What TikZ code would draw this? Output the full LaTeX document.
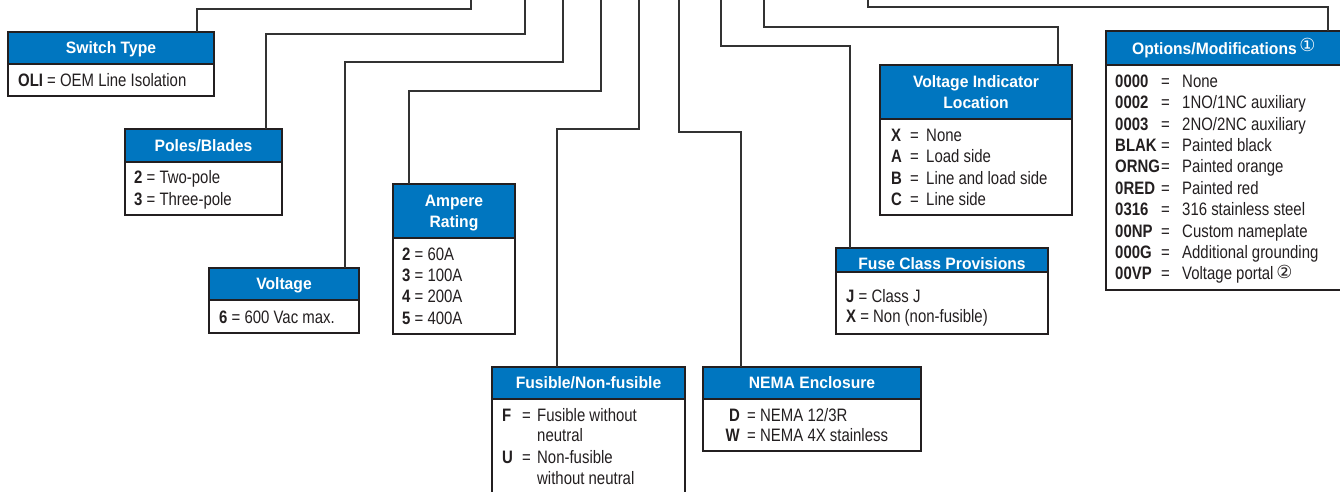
\documentclass[tikz,border=0pt]{standalone}
\usepackage{fontspec}
\setmainfont{Liberation Sans}
\newfontfamily\bodyf{Liberation Sans}[FakeStretch=0.83]
\newfontfamily\headf{Liberation Sans}[FakeStretch=0.95]
\newfontfamily\symf{DejaVu Sans}
\definecolor{hdrblue}{RGB}{0,118,192}
\definecolor{ink}{RGB}{35,31,32}
\definecolor{wire}{RGB}{50,50,50}
\begin{document}
\begin{tikzpicture}[x=1pt,y=-1pt,
  wirestyle/.style={draw=wire,line width=1.4pt},
  hdr/.style={draw=ink,line width=1.6pt,fill=hdrblue,anchor=north west,inner sep=0pt,outer sep=0pt},
  bodybox/.style={draw=ink,line width=1.6pt,fill=white,anchor=north west,inner sep=0pt,outer sep=0pt},
  htxt/.style={font=\headf\fontsize{16.5}{21.7}\selectfont\bfseries,text=white,inner sep=0pt,anchor=base},
  btxt/.style={font=\bodyf\fontsize{18}{21.4}\selectfont,text=ink,inner sep=0pt,anchor=base west},
  bkey/.style={btxt,font=\bodyf\fontsize{18}{21.4}\selectfont\bfseries},
  bkeyr/.style={bkey,anchor=base east},
  circnum/.style={font=\symf\fontsize{18}{20}\selectfont,inner sep=0pt,anchor=center}]
\useasboundingbox (0,0) rectangle (1340,492);
\clip (0,0) rectangle (1340,492);

% ---------- boxes ----------
% Switch Type
\node[bodybox,minimum width=206pt,minimum height=32pt] (swb) at (8,64) {};
\node[hdr,minimum width=206pt,minimum height=32pt] (swh) at (8,32) {};
% Poles/Blades
\node[bodybox,minimum width=157pt,minimum height=53pt] (pbb) at (125,162) {};
\node[hdr,minimum width=157pt,minimum height=33pt] (pbh) at (125,129) {};
% Voltage
\node[bodybox,minimum width=150pt,minimum height=33pt] (vob) at (209,300) {};
\node[hdr,minimum width=150pt,minimum height=32pt] (voh) at (209,268) {};
% Ampere Rating
\node[bodybox,minimum width=122pt,minimum height=96pt] (amb) at (393,238) {};
\node[hdr,minimum width=122pt,minimum height=54pt] (amh) at (393,184) {};
% Fusible/Non-fusible
\node[bodybox,minimum width=193pt,minimum height=110pt] (fub) at (492,399) {};
\node[hdr,minimum width=193pt,minimum height=32pt] (fuh) at (492,367) {};
% NEMA Enclosure
\node[bodybox,minimum width=218pt,minimum height=52pt] (neb) at (703,399) {};
\node[hdr,minimum width=218pt,minimum height=32pt] (neh) at (703,367) {};
% Voltage Indicator Location
\node[bodybox,minimum width=192pt,minimum height=96pt] (vib) at (880,119) {};
\node[hdr,minimum width=192pt,minimum height=54pt] (vih) at (880,65) {};
% Fuse Class Provisions
\node[bodybox,minimum width=212pt,minimum height=62pt] (fcb) at (836,272) {};
\node[hdr,minimum width=212pt,minimum height=24pt] (fch) at (836,248) {};
% Options/Modifications
\node[bodybox,minimum width=250pt,minimum height=225pt] (opb) at (1106,65) {};
\node[hdr,minimum width=250pt,minimum height=34pt] (oph) at (1106,31) {};

% ---------- connectors ----------
\coordinate (t1) at (471,0);
\coordinate (t2) at (525,0);
\coordinate (t3) at (563,0);
\coordinate (t4) at (601,0);
\coordinate (t5) at (639,0);
\coordinate (t6) at (679,0);
\coordinate (t7) at (721,0);
\coordinate (t8) at (764,0);
\coordinate (t9) at (868,0);
\draw[wirestyle] (t1) -- ++(0,9)   -| ([xshift=189pt]swh.north west);
\draw[wirestyle] (t2) -- ++(0,34)  -| ([xshift=141pt]pbh.north west);
\draw[wirestyle] (t3) -- ++(0,62)  -| ([xshift=136pt]voh.north west);
\draw[wirestyle] (t4) -- ++(0,91)  -| ([xshift=16pt]amh.north west);
\draw[wirestyle] (t5) -- ++(0,129) -| ([xshift=65pt]fuh.north west);
\draw[wirestyle] (t6) -- ++(0,132) -| ([xshift=38pt]neh.north west);
\draw[wirestyle] (t7) -- ++(0,46)  -| ([xshift=14pt]fch.north west);
\draw[wirestyle] (t8) -- ++(0,27)  -| ([xshift=178pt]vih.north west);
\draw[wirestyle] (t9) -- ++(0,7)   -| ([xshift=222pt]oph.north west);

% ---------- header texts ----------
\node[htxt] (swt) at (111,53.9) {Switch Type};
\node[htxt] (pbt) at (203.5,151.2) {Poles/Blades};
\node[htxt] (vot) at (284,289.8) {Voltage};
\node[htxt] (amt1) at (454,206) {Ampere};
\node[htxt] (amt2) at (454,227.5) {Rating};
\node[htxt] (fut) at (588.5,388.5) {Fusible/Non-fusible};
\node[htxt] (net) at (812,388.5) {NEMA Enclosure};
\node[htxt] (vit1) at (976,87.3) {Voltage Indicator};
\node[htxt] (vit2) at (976,109) {Location};
\node[htxt] (fct) at (942,269) {Fuse Class Provisions};
\node[htxt,anchor=base west] (opt) at (1132,55) {Options/Modifications};
\node[circnum,text=white] (opn1) at (1307.5,45) {①};

% ---------- body texts ----------
\node[btxt] (sw1) at (18,86.6) {\textbf{OLI} = OEM Line Isolation};
\node[btxt] (pb1) at (134,183.3) {\textbf{2} = Two-pole};
\node[btxt] (pb2) at (134,205) {\textbf{3} = Three-pole};
\node[btxt] (vo1) at (219,323.3) {\textbf{6} = 600 Vac max.};
\node[btxt] (am1) at (402,260) {\textbf{2} = 60A};
\node[btxt] (am2) at (402,281.7) {\textbf{3} = 100A};
\node[btxt] (am3) at (402,302.7) {\textbf{4} = 200A};
\node[btxt] (am4) at (402,324) {\textbf{5} = 400A};

\node[bkey] (fu1k) at (502,421) {F};
\node[btxt] (fu1e) at (522,421) {=};
\node[btxt] (fu1v) at (537,421) {Fusible without};
\node[btxt] (fu2v) at (537,441.7) {neutral};
\node[bkey] (fu3k) at (502,463.7) {U};
\node[btxt] (fu3e) at (522,463.7) {=};
\node[btxt] (fu3v) at (537,463.7) {Non-fusible};
\node[btxt] (fu4v) at (537,484) {without neutral};

\node[bkeyr] (ne1k) at (740,421.7) {D};
\node[btxt] (ne1e) at (747,421.7) {=};
\node[btxt] (ne1v) at (760,421.7) {NEMA 12/3R};
\node[bkeyr] (ne2k) at (740,441.7) {W};
\node[btxt] (ne2e) at (747,441.7) {=};
\node[btxt] (ne2v) at (760,441.7) {NEMA 4X stainless};

\node[bkey] (vi1k) at (891,141) {X};
\node[btxt] (vi1e) at (910,141) {=};
\node[btxt] (vi1v) at (926,141) {None};
\node[bkey] (vi2k) at (891,162.3) {A};
\node[btxt] (vi2e) at (910,162.3) {=};
\node[btxt] (vi2v) at (926,162.3) {Load side};
\node[bkey] (vi3k) at (891,184) {B};
\node[btxt] (vi3e) at (910,184) {=};
\node[btxt] (vi3v) at (926,184) {Line and load side};
\node[bkey] (vi4k) at (891,205.7) {C};
\node[btxt] (vi4e) at (910,205.7) {=};
\node[btxt] (vi4v) at (926,205.7) {Line side};

\node[btxt] (fc1) at (846,302.7) {\textbf{J} = Class J};
\node[btxt] (fc2) at (846,322.7) {\textbf{X} = Non (non-fusible)};

\foreach \k/\v [count=\i from 0] in {0000/None,0002/1NO\slash 1NC auxiliary,0003/2NO\slash 2NC auxiliary,BLAK/Painted black,ORNG/Painted orange,0RED/Painted red,0316/316 stainless steel,00NP/Custom nameplate,000G/Additional grounding,00VP/Voltage portal}{
  \node[bkey] (op\i k) at (1115,87.3+21.4*\i) {\k};
  \node[btxt] (op\i e) at (1161,87.3+21.4*\i) {=};
  \node[btxt] (op\i v) at (1182,87.3+21.4*\i) {\v};
}
\node[circnum,text=ink] (opn2) at (1284.5,272) {②};
\end{tikzpicture}
\end{document}
